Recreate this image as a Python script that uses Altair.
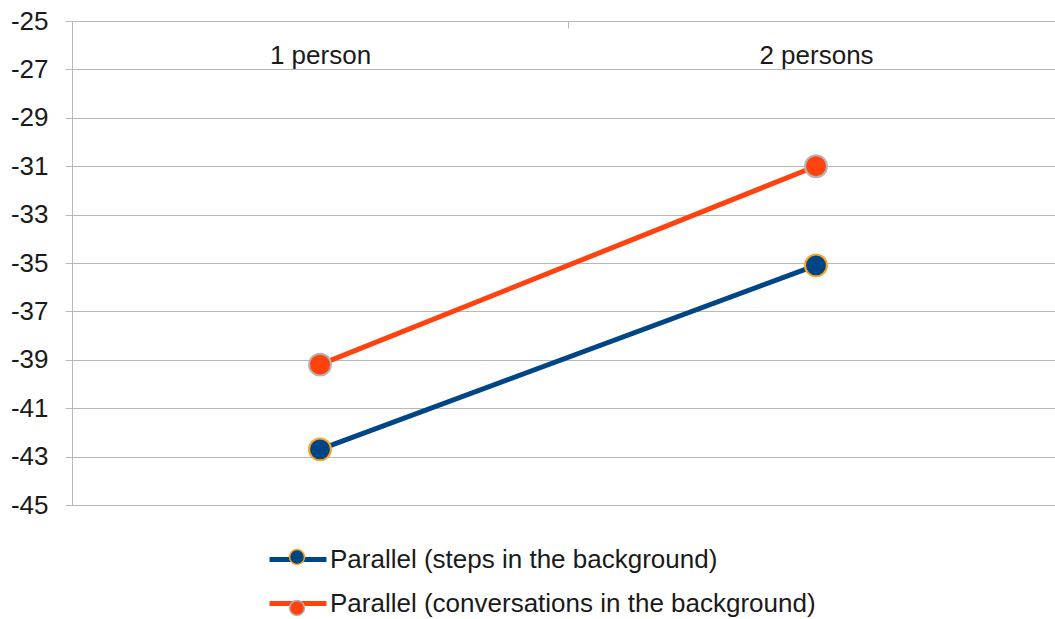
import altair as alt
import pandas as pd

# Categories and series values
groups = ["1 person", "2 persons"]
steps_bg = [-42.7, -35.1]
conversations_bg = [-39.2, -31.0]
series_names = [
    "Parallel (steps in the background)",
    "Parallel (conversations in the background)",
]
line_colors = ["#004586", "#ff420e"]
edge_colors = ["#ffa31a", "#b4b4b4"]
y_ticks = [-45, -43, -41, -39, -37, -35, -33, -31, -29, -27, -25]

rows = []
for name, vals in zip(series_names, [steps_bg, conversations_bg]):
    for g, v in zip(groups, vals):
        rows.append({"group": g, "series": name, "value": v})
df = pd.DataFrame(rows)

FONT = "Liberation Sans"
TEXT = "#1a1a1a"
GRID = "#b8b8b8"
FS = 26

x = alt.X(
    "group:N",
    sort=groups,
    scale=alt.Scale(type="band", range=[0, 992], paddingInner=0, paddingOuter=0),
    axis=alt.Axis(
        orient="top", title=None, domain=False, grid=False,
        ticks=True, tickBand="extent", tickSize=7, tickColor=GRID, offset=-7,
        labelAngle=0, labelPadding=-42, labelBaseline="alphabetic",
        labelFontSize=FS, labelFont=FONT, labelColor=TEXT,
    ),
)
y = alt.Y(
    "value:Q",
    scale=alt.Scale(domain=[-45, -25], nice=False, zero=False),
    axis=alt.Axis(
        title=None, values=y_ticks, domain=True, domainColor=GRID,
        ticks=True, tickSize=7, tickColor=GRID,
        grid=True, gridColor=GRID, gridWidth=1,
        labelExpr="toString(datum.value)",
        labelPadding=17, labelFontSize=FS, labelFont=FONT, labelColor=TEXT,
    ),
)

# Line swatches carry the visible labels; the marker legend sits on top of them
line_legend = alt.Legend(
    title=None, orient="none", legendX=195, legendY=507.5, padding=0,
    symbolType="stroke", symbolSize=3249, symbolStrokeWidth=5,
    labelFontSize=FS, labelFont=FONT, labelColor=TEXT, labelOffset=1,
    rowPadding=-6, labelLimit=0,
)
dot_legend = alt.Legend(
    title=None, orient="none", legendX=212, legendY=523, padding=0,
    symbolType="circle", symbolSize=225, symbolStrokeWidth=1.5,
    labelFontSize=FS, labelFont=FONT, labelColor="transparent",
    labelExpr="''", rowPadding=25, labelLimit=0,
)

lines = alt.Chart(df).mark_line(strokeWidth=5).encode(
    x=x,
    y=y,
    stroke=alt.Stroke(
        "series:N", sort=series_names,
        scale=alt.Scale(domain=series_names, range=line_colors),
        legend=line_legend,
    ),
    detail="series:N",
)

dots = alt.Chart(df).mark_point(filled=True, size=480, strokeWidth=2, opacity=1).encode(
    x=x,
    y=y,
    fill=alt.Fill(
        "series:N", sort=series_names,
        scale=alt.Scale(domain=series_names, range=line_colors),
        legend=dot_legend,
    ),
    stroke=alt.Stroke(
        "series:N", sort=series_names,
        scale=alt.Scale(domain=series_names, range=edge_colors),
        legend=dot_legend,
    ),
)

chart = (
    alt.layer(lines, dots)
    .resolve_scale(stroke="independent", fill="independent")
    .resolve_legend(stroke="independent", fill="independent")
    .properties(
        width=983, height=484,
        autosize=alt.AutoSizeParams(type="none"),
        padding={"left": 72, "top": 21, "right": 0, "bottom": 114},
        background="white",
    )
    .configure_view(strokeWidth=0)
)

chart.save("out.html", embed_options={"renderer": "svg", "actions": False})
